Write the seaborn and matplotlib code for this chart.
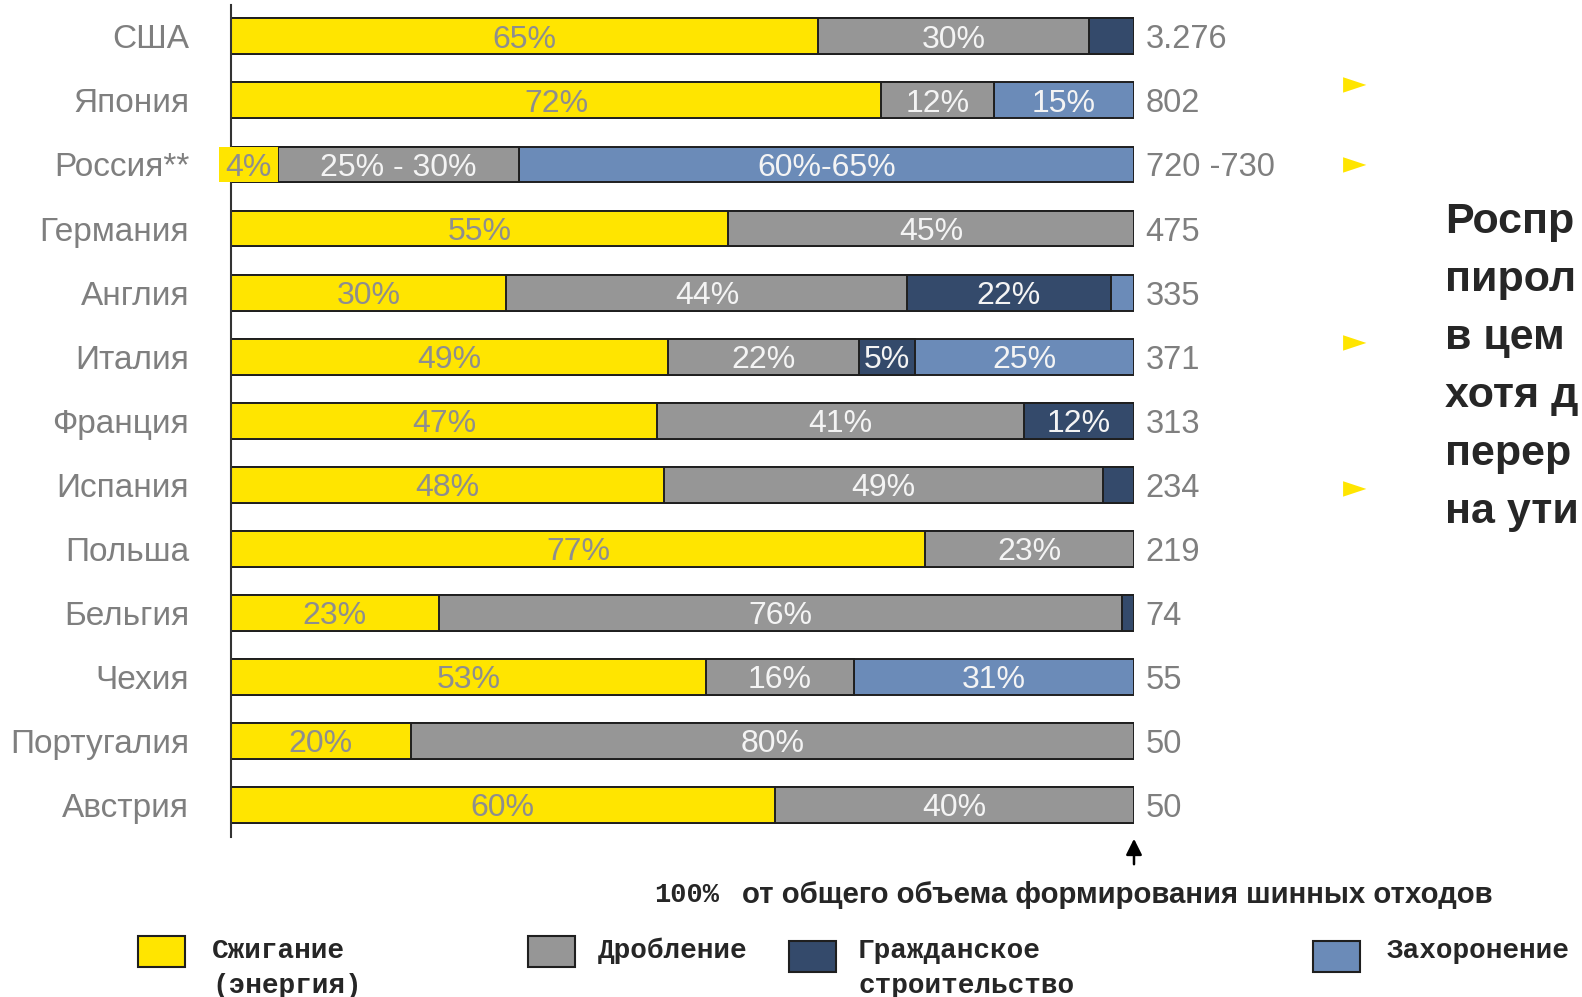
import numpy as np
import pandas as pd
import matplotlib.pyplot as plt
import seaborn as sns
from matplotlib.patches import Rectangle

# Data (shares of each country's tyre waste, %)
countries = ['США', 'Япония', 'Россия**', 'Германия', 'Англия', 'Италия', 'Франция',
             'Испания', 'Польша', 'Бельгия', 'Чехия', 'Португалия', 'Австрия']
burn = [65, 72, 5.2, 55, 30.5, 48.4, 47.2, 47.9, 76.9, 23, 52.6, 19.9, 60.2]
crush = [30, 12.5, 26.7, 45, 44.4, 21.1, 40.6, 48.7, 23.1, 75.7, 16.4, 80.1, 39.8]
civil = [5, 0, 0, 0, 22.5, 6.3, 12.2, 3.4, 0, 1.3, 0, 0, 0]
landfill = [0, 15.5, 68.1, 0, 2.6, 24.2, 0, 0, 0, 0, 31, 0, 0]

burn_lbl = ['65%', '72%', '4%', '55%', '30%', '49%', '47%', '48%', '77%', '23%', '53%', '20%', '60%']
crush_lbl = ['30%', '12%', '25% - 30%', '45%', '44%', '22%', '41%', '49%', '23%', '76%', '16%', '80%', '40%']
civil_lbl = ['', '', '', '', '22%', '5%', '12%', '', '', '', '', '', '']
landfill_lbl = ['', '15%', '60%-65%', '', '', '25%', '', '', '', '', '31%', '', '']
totals = ['3.276', '802', '720 -730', '475', '335', '371', '313', '234', '219', '74', '55', '50', '50']

# Russia's "4%" box sticks out left of the axis
russia_box_left = -1.3
russia_box_width = 6.5

categories = ['Сжигание\n(энергия)', 'Дробление', 'Гражданское\nстроительство', 'Захоронение']
colors = ['#FFE500', '#969696', '#344A6B', '#6B8BB8']

side_lines = ['Роспр', 'пирол', 'в цем', 'хотя д', 'перер', 'на ути']

df = pd.DataFrame({'country': countries, 'burn': burn, 'crush': crush,
                   'civil': civil, 'landfill': landfill})
df['c1'] = df['burn']
df['c2'] = df['c1'] + df['crush']
df['c3'] = df['c2'] + df['civil']
df['c4'] = df['c3'] + df['landfill']

sns.set_theme(style='white')
plt.rcParams['font.family'] = ['Liberation Sans', 'DejaVu Sans']

W, H = 1582, 997
fig = plt.figure(figsize=(W / 100, H / 100), dpi=100)
ax = fig.add_axes([231 / W, 1 - 837 / H, 903 / W, 832 / H])

edge = '#1f1f1f'
# stacked bars drawn as overlapping cumulative bars, widest first
for col, c in zip(['c4', 'c3', 'c2', 'c1'], colors[::-1]):
    sns.barplot(data=df, x=col, y='country', orient='h', color=c, saturation=1,
                width=0.56, edgecolor=edge, linewidth=1.4, ax=ax)

ax.barh(2, russia_box_width, left=russia_box_left, height=0.56,
        color=colors[0], linewidth=0, clip_on=False, zorder=3)

ax.set_xlim(0, 100)
ax.set_ylim(12.5, -0.49)
ax.set_xlabel('')
ax.set_ylabel('')
ax.set_xticks([])
ax.set_yticks(range(len(countries)))
ax.set_yticklabels(countries, fontsize=24, color='#7f7f7f')
ax.tick_params(axis='y', length=0, pad=30)
for s in ['top', 'right', 'bottom']:
    ax.spines[s].set_visible(False)
ax.spines['left'].set_color('#333333')
ax.spines['left'].set_linewidth(1.5)

# segment labels
for i in range(len(countries)):
    lefts = [0, df.c1[i], df.c2[i], df.c3[i]]
    widths = [burn[i], crush[i], civil[i], landfill[i]]
    labels = [burn_lbl[i], crush_lbl[i], civil_lbl[i], landfill_lbl[i]]
    if i == 2:
        lefts[0], widths[0] = russia_box_left, russia_box_width
    for k in range(4):
        if labels[k]:
            tc = '#8e8e8e' if k == 0 else '#f4f4f4'
            ax.text(lefts[k] + widths[k] / 2, i, labels[k], ha='center',
                    va='center_baseline', fontsize=23, color=tc, zorder=5)
    ax.text(101.3, i, totals[i], ha='left', va='center_baseline', fontsize=23.5,
            color='#7f7f7f', clip_on=False)


def fx(x):
    return x / W


def fy(y):
    return 1 - y / H


# arrow at 100 %
fig.add_artist(plt.Annotation('', xy=(fx(1134), fy(836)), xytext=(fx(1134), fy(867)),
                              xycoords='figure fraction', textcoords='figure fraction',
                              arrowprops=dict(arrowstyle='-|>', color='black', lw=1.8,
                                              mutation_scale=24)))
fig.text(fx(654), fy(895), '100%', family=['Liberation Mono', 'DejaVu Sans Mono'],
         fontsize=19.5, fontweight='bold', color='#262626', va='center', ha='left')
fig.text(fx(742), fy(895), 'от общего объема формирования шинных отходов',
         family=['Liberation Sans Narrow', 'Liberation Sans'], fontsize=21.2,
         fontweight='bold', color='#262626', va='center', ha='left')

# legend
legend_boxes = [(138, 936), (528, 936), (789, 941), (1313, 941)]
legend_text_x = [212, 598, 858, 1387]
for (bx, by), tx, lab, c in zip(legend_boxes, legend_text_x, categories, colors):
    fig.add_artist(Rectangle((fx(bx), fy(by + 31)), 47 / W, 31 / H, facecolor=c,
                             edgecolor='#1f1f1f', linewidth=1.5,
                             transform=fig.transFigure))
    fig.text(fx(tx), fy(938), lab, family=['Liberation Mono', 'DejaVu Sans Mono'],
             fontsize=20, fontweight='bold', color='#262626', va='top', ha='left',
             linespacing=1.45)

# right-hand side notes (cut by the page edge in the original)
for y in [85, 165, 343, 489]:
    fig.text(fx(1355), fy(y), '►', family='DejaVu Sans', fontsize=22,
             color='#FFE500', ha='center', va='center')
for j, line in enumerate(side_lines):
    fig.text(fx(1445), fy(222 + j * 58), line, fontsize=31, fontweight='bold',
             color='#262626', ha='left', va='center')

fig.savefig('out.png', dpi=100)
